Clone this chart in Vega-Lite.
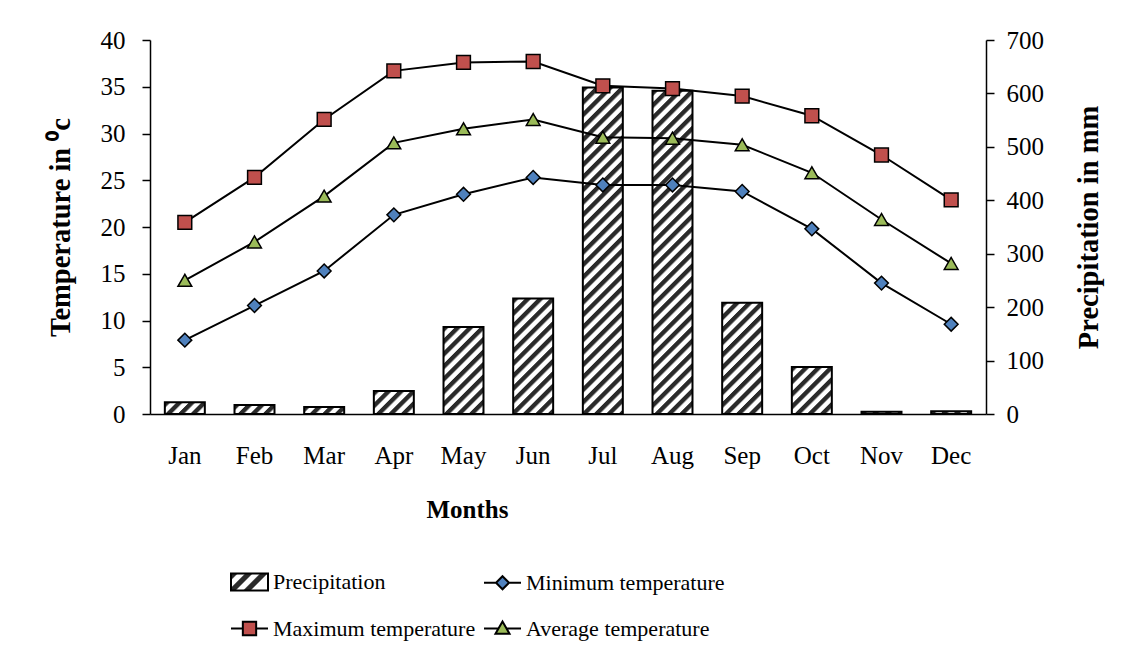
{
  "$schema": "https://vega.github.io/schema/vega-lite/v6.json",
  "width": 836,
  "height": 374,
  "autosize": {"type": "none"},
  "padding": {"left": 150, "top": 40, "right": 143, "bottom": 246},
  "background": "white",
  "params": [
    {"name": "hatchStops", "value": [
      {"offset": 0, "color": "#2a2a2a"}, {"offset": 0.012, "color": "#2a2a2a"}, {"offset": 0.018, "color": "#ffffff"}, {"offset": 0.0303, "color": "#ffffff"},
      {"offset": 0.0333, "color": "#2a2a2a"}, {"offset": 0.0453, "color": "#2a2a2a"}, {"offset": 0.0513, "color": "#ffffff"}, {"offset": 0.0637, "color": "#ffffff"},
      {"offset": 0.0667, "color": "#2a2a2a"}, {"offset": 0.0787, "color": "#2a2a2a"}, {"offset": 0.0847, "color": "#ffffff"}, {"offset": 0.097, "color": "#ffffff"},
      {"offset": 0.1, "color": "#2a2a2a"}, {"offset": 0.112, "color": "#2a2a2a"}, {"offset": 0.118, "color": "#ffffff"}, {"offset": 0.1303, "color": "#ffffff"},
      {"offset": 0.1333, "color": "#2a2a2a"}, {"offset": 0.1453, "color": "#2a2a2a"}, {"offset": 0.1513, "color": "#ffffff"}, {"offset": 0.1637, "color": "#ffffff"},
      {"offset": 0.1667, "color": "#2a2a2a"}, {"offset": 0.1787, "color": "#2a2a2a"}, {"offset": 0.1847, "color": "#ffffff"}, {"offset": 0.197, "color": "#ffffff"},
      {"offset": 0.2, "color": "#2a2a2a"}, {"offset": 0.212, "color": "#2a2a2a"}, {"offset": 0.218, "color": "#ffffff"}, {"offset": 0.2303, "color": "#ffffff"},
      {"offset": 0.2333, "color": "#2a2a2a"}, {"offset": 0.2453, "color": "#2a2a2a"}, {"offset": 0.2513, "color": "#ffffff"}, {"offset": 0.2637, "color": "#ffffff"},
      {"offset": 0.2667, "color": "#2a2a2a"}, {"offset": 0.2787, "color": "#2a2a2a"}, {"offset": 0.2847, "color": "#ffffff"}, {"offset": 0.297, "color": "#ffffff"},
      {"offset": 0.3, "color": "#2a2a2a"}, {"offset": 0.312, "color": "#2a2a2a"}, {"offset": 0.318, "color": "#ffffff"}, {"offset": 0.3303, "color": "#ffffff"},
      {"offset": 0.3333, "color": "#2a2a2a"}, {"offset": 0.3453, "color": "#2a2a2a"}, {"offset": 0.3513, "color": "#ffffff"}, {"offset": 0.3637, "color": "#ffffff"},
      {"offset": 0.3667, "color": "#2a2a2a"}, {"offset": 0.3787, "color": "#2a2a2a"}, {"offset": 0.3847, "color": "#ffffff"}, {"offset": 0.397, "color": "#ffffff"},
      {"offset": 0.4, "color": "#2a2a2a"}, {"offset": 0.412, "color": "#2a2a2a"}, {"offset": 0.418, "color": "#ffffff"}, {"offset": 0.4303, "color": "#ffffff"},
      {"offset": 0.4333, "color": "#2a2a2a"}, {"offset": 0.4453, "color": "#2a2a2a"}, {"offset": 0.4513, "color": "#ffffff"}, {"offset": 0.4637, "color": "#ffffff"},
      {"offset": 0.4667, "color": "#2a2a2a"}, {"offset": 0.4787, "color": "#2a2a2a"}, {"offset": 0.4847, "color": "#ffffff"}, {"offset": 0.497, "color": "#ffffff"},
      {"offset": 0.5, "color": "#2a2a2a"}, {"offset": 0.512, "color": "#2a2a2a"}, {"offset": 0.518, "color": "#ffffff"}, {"offset": 0.5303, "color": "#ffffff"},
      {"offset": 0.5333, "color": "#2a2a2a"}, {"offset": 0.5453, "color": "#2a2a2a"}, {"offset": 0.5513, "color": "#ffffff"}, {"offset": 0.5637, "color": "#ffffff"},
      {"offset": 0.5667, "color": "#2a2a2a"}, {"offset": 0.5787, "color": "#2a2a2a"}, {"offset": 0.5847, "color": "#ffffff"}, {"offset": 0.597, "color": "#ffffff"},
      {"offset": 0.6, "color": "#2a2a2a"}, {"offset": 0.612, "color": "#2a2a2a"}, {"offset": 0.618, "color": "#ffffff"}, {"offset": 0.6303, "color": "#ffffff"},
      {"offset": 0.6333, "color": "#2a2a2a"}, {"offset": 0.6453, "color": "#2a2a2a"}, {"offset": 0.6513, "color": "#ffffff"}, {"offset": 0.6637, "color": "#ffffff"},
      {"offset": 0.6667, "color": "#2a2a2a"}, {"offset": 0.6787, "color": "#2a2a2a"}, {"offset": 0.6847, "color": "#ffffff"}, {"offset": 0.697, "color": "#ffffff"},
      {"offset": 0.7, "color": "#2a2a2a"}, {"offset": 0.712, "color": "#2a2a2a"}, {"offset": 0.718, "color": "#ffffff"}, {"offset": 0.7303, "color": "#ffffff"},
      {"offset": 0.7333, "color": "#2a2a2a"}, {"offset": 0.7453, "color": "#2a2a2a"}, {"offset": 0.7513, "color": "#ffffff"}, {"offset": 0.7637, "color": "#ffffff"},
      {"offset": 0.7667, "color": "#2a2a2a"}, {"offset": 0.7787, "color": "#2a2a2a"}, {"offset": 0.7847, "color": "#ffffff"}, {"offset": 0.797, "color": "#ffffff"},
      {"offset": 0.8, "color": "#2a2a2a"}, {"offset": 0.812, "color": "#2a2a2a"}, {"offset": 0.818, "color": "#ffffff"}, {"offset": 0.8303, "color": "#ffffff"},
      {"offset": 0.8333, "color": "#2a2a2a"}, {"offset": 0.8453, "color": "#2a2a2a"}, {"offset": 0.8513, "color": "#ffffff"}, {"offset": 0.8637, "color": "#ffffff"},
      {"offset": 0.8667, "color": "#2a2a2a"}, {"offset": 0.8787, "color": "#2a2a2a"}, {"offset": 0.8847, "color": "#ffffff"}, {"offset": 0.897, "color": "#ffffff"},
      {"offset": 0.9, "color": "#2a2a2a"}, {"offset": 0.912, "color": "#2a2a2a"}, {"offset": 0.918, "color": "#ffffff"}, {"offset": 0.9303, "color": "#ffffff"},
      {"offset": 0.9333, "color": "#2a2a2a"}, {"offset": 0.9453, "color": "#2a2a2a"}, {"offset": 0.9513, "color": "#ffffff"}, {"offset": 0.9637, "color": "#ffffff"},
      {"offset": 0.9667, "color": "#2a2a2a"}, {"offset": 0.9787, "color": "#2a2a2a"}, {"offset": 0.9847, "color": "#ffffff"}, {"offset": 1, "color": "#ffffff"}
    ]}
  ],
  "config": {
    "font": "Liberation Serif",
    "view": {"stroke": null},
    "axis": {"domainColor": "black", "domainWidth": 1.5, "tickColor": "black", "tickWidth": 1.5, "labelColor": "black", "titleColor": "black", "labelFont": "Liberation Serif", "titleFont": "Liberation Serif", "grid": false}
  },
  "datasets": {
    "precip": [
      {"month": "Jan", "precipitation": 22},
      {"month": "Feb", "precipitation": 17},
      {"month": "Mar", "precipitation": 13},
      {"month": "Apr", "precipitation": 43},
      {"month": "May", "precipitation": 163},
      {"month": "Jun", "precipitation": 216},
      {"month": "Jul", "precipitation": 611},
      {"month": "Aug", "precipitation": 605},
      {"month": "Sep", "precipitation": 208},
      {"month": "Oct", "precipitation": 88},
      {"month": "Nov", "precipitation": 4},
      {"month": "Dec", "precipitation": 5}
    ],
    "temps": [
      {"month": "Jan", "series": "Minimum temperature", "temperature": 7.9},
      {"month": "Feb", "series": "Minimum temperature", "temperature": 11.6},
      {"month": "Mar", "series": "Minimum temperature", "temperature": 15.3},
      {"month": "Apr", "series": "Minimum temperature", "temperature": 21.3},
      {"month": "May", "series": "Minimum temperature", "temperature": 23.5},
      {"month": "Jun", "series": "Minimum temperature", "temperature": 25.3},
      {"month": "Jul", "series": "Minimum temperature", "temperature": 24.5},
      {"month": "Aug", "series": "Minimum temperature", "temperature": 24.5},
      {"month": "Sep", "series": "Minimum temperature", "temperature": 23.8},
      {"month": "Oct", "series": "Minimum temperature", "temperature": 19.8},
      {"month": "Nov", "series": "Minimum temperature", "temperature": 14.0},
      {"month": "Dec", "series": "Minimum temperature", "temperature": 9.6},
      {"month": "Jan", "series": "Maximum temperature", "temperature": 20.5},
      {"month": "Feb", "series": "Maximum temperature", "temperature": 25.3},
      {"month": "Mar", "series": "Maximum temperature", "temperature": 31.5},
      {"month": "Apr", "series": "Maximum temperature", "temperature": 36.7},
      {"month": "May", "series": "Maximum temperature", "temperature": 37.6},
      {"month": "Jun", "series": "Maximum temperature", "temperature": 37.7},
      {"month": "Jul", "series": "Maximum temperature", "temperature": 35.1},
      {"month": "Aug", "series": "Maximum temperature", "temperature": 34.8},
      {"month": "Sep", "series": "Maximum temperature", "temperature": 34.0},
      {"month": "Oct", "series": "Maximum temperature", "temperature": 31.9},
      {"month": "Nov", "series": "Maximum temperature", "temperature": 27.7},
      {"month": "Dec", "series": "Maximum temperature", "temperature": 22.9},
      {"month": "Jan", "series": "Average temperature", "temperature": 14.3},
      {"month": "Feb", "series": "Average temperature", "temperature": 18.4},
      {"month": "Mar", "series": "Average temperature", "temperature": 23.3},
      {"month": "Apr", "series": "Average temperature", "temperature": 29.0},
      {"month": "May", "series": "Average temperature", "temperature": 30.5},
      {"month": "Jun", "series": "Average temperature", "temperature": 31.5},
      {"month": "Jul", "series": "Average temperature", "temperature": 29.6},
      {"month": "Aug", "series": "Average temperature", "temperature": 29.5},
      {"month": "Sep", "series": "Average temperature", "temperature": 28.8},
      {"month": "Oct", "series": "Average temperature", "temperature": 25.8},
      {"month": "Nov", "series": "Average temperature", "temperature": 20.8},
      {"month": "Dec", "series": "Average temperature", "temperature": 16.1}
    ]
  },
  "encoding": {
    "x": {
      "field": "month",
      "type": "ordinal",
      "sort": ["Jan", "Feb", "Mar", "Apr", "May", "Jun", "Jul", "Aug", "Sep", "Oct", "Nov", "Dec"],
      "scale": {"paddingInner": 0.426, "paddingOuter": 0.213},
      "axis": {
        "title": "Months",
        "labelAngle": 0,
        "ticks": false,
        "tickSize": 0,
        "labelFontSize": 25,
        "labelBaseline": "alphabetic",
        "labelPadding": 49,
        "titleFontSize": 25,
        "titleFontWeight": "bold",
        "titleX": 317,
        "titleY": 103,
        "titleBaseline": "alphabetic",
        "titleAlign": "center"
      }
    }
  },
  "layer": [
    {
      "data": {"name": "precip"},
      "mark": {"type": "bar", "stroke": "black", "strokeWidth": 2},
      "encoding": {
        "fill": {"value": {"expr": "{gradient: 'linear', x1: 0, y1: 0, x2: 15000 / (pow(datum.precipitation * 0.5343, 2) + 1600), y2: 375 * datum.precipitation * 0.5343 / (pow(datum.precipitation * 0.5343, 2) + 1600), stops: hatchStops}"}},
        "y": {
          "field": "precipitation",
          "type": "quantitative",
          "scale": {"domain": [0, 700], "nice": false},
          "axis": {
            "orient": "right",
            "values": [0, 100, 200, 300, 400, 500, 600, 700],
            "tickSize": 8,
            "labelFontSize": 25,
            "labelPadding": 12,
            "title": "Precipitation in mm",
            "titleFontSize": 28.5,
            "titleFontWeight": "bold",
            "titleAngle": -90,
            "titleX": 111,
            "titleY": 187,
            "titleBaseline": "alphabetic",
            "titleAlign": "center"
          }
        }
      }
    },
    {
      "data": {"name": "temps"},
      "layer": [
        {
          "mark": {"type": "line", "color": "black", "strokeWidth": 2},
          "encoding": {
            "y": {
              "field": "temperature",
              "type": "quantitative",
              "scale": {"domain": [0, 40], "nice": false},
              "axis": {
                "orient": "left",
                "values": [0, 5, 10, 15, 20, 25, 30, 35, 40],
                "tickSize": 8,
                "labelFontSize": 25,
                "labelPadding": 17,
                "title": "Temperature in ⁰c",
                "titleFontSize": 28.5,
                "titleFontWeight": "bold",
                "titleAngle": -90,
                "titleX": -81,
                "titleY": 187,
                "titleBaseline": "alphabetic",
                "titleAlign": "center"
              }
            },
            "detail": {"field": "series", "type": "nominal"}
          }
        },
        {
          "mark": {"type": "point", "filled": true, "stroke": "black", "strokeWidth": 1.5, "size": 190},
          "encoding": {
            "y": {"field": "temperature", "type": "quantitative"},
            "shape": {
              "field": "series",
              "type": "nominal",
              "scale": {
                "domain": ["Minimum temperature", "Maximum temperature", "Average temperature"],
                "range": ["diamond", "square", "triangle-up"]
              },
              "legend": null
            },
            "fill": {
              "field": "series",
              "type": "nominal",
              "scale": {
                "domain": ["Minimum temperature", "Maximum temperature", "Average temperature"],
                "range": ["#4F81BD", "#C0504D", "#9BBB59"]
              },
              "legend": null
            },
            "opacity": {
              "field": "series",
              "type": "nominal",
              "scale": {
                "domain": ["Precipitation", "Minimum temperature", "Maximum temperature", "Average temperature"],
                "range": [1, 1, 1, 1]
              },
              "legend": {
                "title": null,
                "orient": "none",
                "direction": "horizontal",
                "legendX": 80,
                "legendY": 522,
                "columns": 2,
                "columnPadding": 4,
                "rowPadding": 14,
                "symbolSize": 1369,
                "symbolStrokeColor": "black",
                "symbolStrokeWidth": 2,
                "symbolType": {"expr": "datum.value === 'Precipitation' ? 'M-1,-0.46H1V0.46H-1Z' : datum.value === 'Minimum temperature' ? 'M-1,0H-0.35M0,-0.35L0.35,0L0,0.35L-0.35,0ZM0.35,0H1' : datum.value === 'Maximum temperature' ? 'M-1,0H-0.36M-0.36,-0.36H0.36V0.36H-0.36ZM0.36,0H1' : 'M-1,0H-0.22M0,-0.38L0.38,0.28H-0.38ZM0.22,0H1'"},
                "symbolFillColor": {"expr": "datum.value === 'Precipitation' ? {gradient: 'linear', x1: 0, y1: 0, x2: 1, y2: 0.46, stops: [{offset: 0, color: '#2a2a2a'}, {offset: 0.13, color: '#2a2a2a'}, {offset: 0.17, color: '#fff'}, {offset: 0.3, color: '#fff'}, {offset: 0.333, color: '#2a2a2a'}, {offset: 0.463, color: '#2a2a2a'}, {offset: 0.503, color: '#fff'}, {offset: 0.633, color: '#fff'}, {offset: 0.667, color: '#2a2a2a'}, {offset: 0.797, color: '#2a2a2a'}, {offset: 0.837, color: '#fff'}, {offset: 1, color: '#fff'}]} : datum.value === 'Minimum temperature' ? '#4F81BD' : datum.value === 'Maximum temperature' ? '#C0504D' : '#9BBB59'"},
                "labelFontSize": 22,
                "labelFont": "Liberation Serif",
                "labelColor": "black",
                "labelOffset": 4,
                "labelLimit": 400
              }
            }
          }
        }
      ]
    }
  ],
  "resolve": {"scale": {"y": "independent"}}
}
